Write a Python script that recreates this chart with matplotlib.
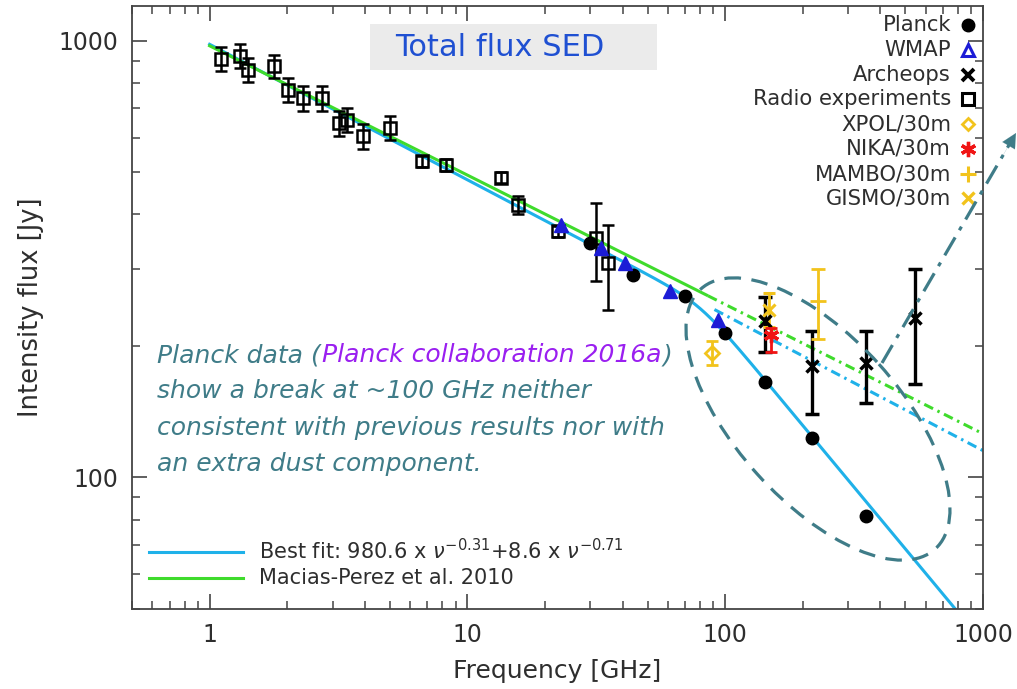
import numpy as np
import matplotlib
matplotlib.use("Agg")
import matplotlib.pyplot as plt
from matplotlib.patches import Ellipse, Rectangle
from matplotlib.ticker import LogLocator, NullFormatter, FuncFormatter

# ---------------- data ----------------
planck_freq = [30, 44, 70, 100, 143, 217, 353]
planck_flux = [344, 290, 260, 214, 165, 123, 81.8]

wmap_freq = [23, 33, 41, 61, 94]
wmap_flux = [379, 335, 310, 267, 229]

archeops_freq = [143, 217, 353, 545]
archeops_flux = [228, 180, 183, 232]
archeops_lo = [194, 140, 148, 164]
archeops_hi = [259, 216, 216, 300]

radio_freq = [1.11, 1.31, 1.41, 1.77, 2.01, 2.30, 2.73, 3.17, 3.41, 3.93,
              5.02, 6.67, 8.27, 13.5, 15.7, 22.4, 31.5, 35.0]
radio_flux = [908, 924, 858, 874, 772, 739, 739, 648, 659, 604,
              631, 529, 520, 485, 421, 366, 353, 310]
radio_err = [58, 58, 55, 55, 50, 48, 48, 42, 42, 39,
             40, 16, 16, 14, 20, 11, 72, 68]

xpol_freq, xpol_flux, xpol_lo, xpol_hi = [88.5], [193], [181], [205]
nika_freq, nika_flux, nika_lo, nika_hi = [150], [212], [194], [220]
mambo_freq, mambo_flux, mambo_lo, mambo_hi = [230], [253], [207], [300]
gismo_freq, gismo_flux, gismo_lo, gismo_hi = [148], [242], [221], [265]

# fitted models
best_amp, best_idx_low, best_idx_high, best_break = 980.6, -0.31, -0.71, 80.0
best_sharpness = 8.0
macias_amp, macias_idx = 973.0, -0.296
extrap_start = 85.0

legend_labels = ["Planck", "WMAP", "Archeops", "Radio experiments",
                 "XPOL/30m", "NIKA/30m", "MAMBO/30m", "GISMO/30m"]

# ---------------- styling ----------------
W, H, DPI = 1017, 689, 100
C_TXT = "#2e2e2e"
C_BLUE_LINE = "#1fb1e9"
C_GREEN_LINE = "#3fdb2c"
C_WMAP = "#1c1cd6"
C_GOLD = "#f2c31c"
C_RED = "#f01414"
C_TEAL = "#3f7c88"
C_PURPLE = "#9a1ff0"

plt.rcParams["font.family"] = ["DejaVu Sans"]
plt.rcParams["mathtext.fontset"] = "dejavusans"

fig = plt.figure(figsize=(W / DPI, H / DPI), dpi=DPI)
ax = fig.add_axes([132 / W, 1 - 609 / H, (983 - 132) / W, (609 - 6) / H])
ax.set_xscale("log")
ax.set_yscale("log")
ax.set_xlim(0.5, 1000)
ax.set_ylim(50, 1200)

for sp in ax.spines.values():
    sp.set_color("#444444")
    sp.set_linewidth(1.3)

fmt = FuncFormatter(lambda v, p: f"{v:g}")
for axis in (ax.xaxis, ax.yaxis):
    axis.set_major_locator(LogLocator(base=10))
    axis.set_minor_locator(LogLocator(base=10, subs=np.arange(2, 10)))
    axis.set_major_formatter(fmt)
    axis.set_minor_formatter(NullFormatter())
ax.tick_params(which="both", direction="in", top=True, right=True,
               color="#444444", labelcolor=C_TXT, labelsize=17)
ax.tick_params(which="major", length=11, width=1.2, pad=10)
ax.tick_params(which="minor", length=5.5, width=1.1)
ax.set_xlabel("Frequency [GHz]", fontsize=18, color=C_TXT, labelpad=9)
ax.set_ylabel("Intensity flux [Jy]", fontsize=18.5, color=C_TXT, labelpad=10)

# ---------------- model curves ----------------
nu = np.logspace(0, 3, 600)
best = best_amp * nu ** best_idx_low * (1 + (nu / best_break) ** best_sharpness) ** (
    (best_idx_high - best_idx_low) / best_sharpness)
ax.plot(nu, best, color=C_BLUE_LINE, lw=2.2, zorder=2)

nu_lo = nu[nu <= extrap_start]
nu_hi = nu[nu >= extrap_start]
ax.plot(nu_lo, macias_amp * nu_lo ** macias_idx, color=C_GREEN_LINE, lw=2.2, zorder=2)
dashdot = (0, (3.2, 1.6, 0.8, 1.6))
ax.plot(nu_hi, macias_amp * nu_hi ** macias_idx, color=C_GREEN_LINE, lw=2.2,
        linestyle=dashdot, zorder=2)
nu_b = nu[nu >= 90]
ax.plot(nu_b, best_amp * nu_b ** best_idx_low, color=C_BLUE_LINE, lw=2.2,
        linestyle=dashdot, zorder=2)

# ---------------- data points ----------------
def asym(flux, lo, hi):
    f = np.asarray(flux)
    return [f - np.asarray(lo), np.asarray(hi) - f]

ax.errorbar(radio_freq, radio_flux, yerr=radio_err, fmt="s", ms=8.5, mfc="none",
            mec="black", mew=1.8, ecolor="black", elinewidth=1.8, capsize=4,
            capthick=1.8, zorder=4)
ax.plot(planck_freq, planck_flux, "o", ms=9, color="black", zorder=5)
ax.plot(wmap_freq, wmap_flux, "^", ms=10, color=C_WMAP, zorder=5)
ax.errorbar(archeops_freq, archeops_flux,
            yerr=asym(archeops_flux, archeops_lo, archeops_hi), fmt="x", ms=9,
            mew=2.5, color="black", elinewidth=2.4, capsize=5, capthick=2.4, zorder=6)
ax.errorbar(xpol_freq, xpol_flux, yerr=asym(xpol_flux, xpol_lo, xpol_hi), fmt="D",
            ms=7, mfc="none", mec=C_GOLD, mew=2, ecolor=C_GOLD, elinewidth=2,
            capsize=4, capthick=2, zorder=6)
ax.errorbar(gismo_freq, gismo_flux, yerr=asym(gismo_flux, gismo_lo, gismo_hi),
            fmt="x", ms=9, mew=2.2, color=C_GOLD, elinewidth=2, capsize=4,
            capthick=2, zorder=6)
ax.errorbar(nika_freq, nika_flux, yerr=asym(nika_flux, nika_lo, nika_hi),
            fmt="none", ecolor=C_RED, elinewidth=2, capsize=4, capthick=2, zorder=7)
ax.plot(nika_freq, nika_flux, marker=(6, 2, 0), ms=11, mew=2.4, color=C_RED,
        ls="none", zorder=7)
ax.errorbar(mambo_freq, mambo_flux, yerr=asym(mambo_flux, mambo_lo, mambo_hi),
            fmt="+", ms=12, mew=2, color=C_GOLD, elinewidth=2, capsize=5,
            capthick=2, zorder=6)

# ---------------- overlay in pixel units ----------------
ov = fig.add_axes([0, 0, 1, 1], facecolor="none")
ov.set_xlim(0, W)
ov.set_ylim(H, 0)
ov.axis("off")

# legend with markers on the right
leg_y = [25, 50, 75, 99, 124, 149, 174, 198]
leg_style = [
    dict(marker="o", ms=9, color="black"),
    dict(marker="^", ms=9, mfc="none", mec=C_WMAP, mew=2.2),
    dict(marker="x", ms=9, mew=2.8, color="black"),
    dict(marker="s", ms=8.5, mfc="none", mec="black", mew=2.2),
    dict(marker="D", ms=6.5, mfc="none", mec=C_GOLD, mew=2),
    dict(marker=(6, 2, 0), ms=11, mew=2.4, color=C_RED),
    dict(marker="+", ms=11, mew=2.2, color=C_GOLD),
    dict(marker="x", ms=9, mew=2.4, color=C_GOLD),
]
for lab, y, st in zip(legend_labels, leg_y, leg_style):
    ov.text(951, y, lab, ha="right", va="center", fontsize=15.2, color=C_TXT)
    ov.plot([968], [y], ls="none", **st)

# legend for the model lines
ov.plot([149, 243], [552, 552], color=C_BLUE_LINE, lw=2.2)
ov.plot([149, 243], [578, 578], color=C_GREEN_LINE, lw=2.2)
ov.text(259, 551, r"Best fit: 980.6 x $\nu^{-0.31}$+8.6 x $\nu^{-0.71}$",
        ha="left", va="center", fontsize=15, color=C_TXT)
ov.text(259, 578, "Macias-Perez et al. 2010", ha="left", va="center",
        fontsize=15, color=C_TXT)

# title box
ov.add_patch(Rectangle((370, 24), 287, 46, facecolor="#ebebeb", edgecolor="none",
                       zorder=1))
ov.text(500, 47, "Total flux SED", ha="center", va="center", fontsize=22,
        color="#1f50d2", zorder=2)

# annotation text
renderer = fig.canvas.get_renderer()
note_kw = dict(fontsize=18, style="italic", va="center", ha="left")
x0 = 157
lines = [
    [("Planck data (", C_TEAL), ("Planck collaboration 2016a", C_PURPLE), (")", C_TEAL)],
    [("show a break at ~100 GHz neither", C_TEAL)],
    [("consistent with previous results nor with", C_TEAL)],
    [("an extra dust component.", C_TEAL)],
]
for i, parts in enumerate(lines):
    x = x0
    y = 355 + 36.5 * i
    for s, c in parts:
        t = ov.text(x, y, s, color=c, **note_kw)
        x += t.get_window_extent(renderer=renderer).width + 1

# dashed ellipse around the high-frequency break
ov.add_patch(Ellipse((818, 419), 2 * 175, 2 * 82, angle=48, fill=False,
                     edgecolor=C_TEAL, lw=2.3, linestyle=(0, (5.2, 3.3))))

# dash-dot arrow leaving the ellipse
tail = np.array([882.0, 363.0])
tip = np.array([1016.0, 133.0])
d = (tip - tail) / np.hypot(*(tip - tail))
ov.plot([tail[0], (tip - 14 * d)[0]], [tail[1], (tip - 14 * d)[1]], color=C_TEAL,
        lw=2.3, linestyle=(0, (6.5, 2.6, 1.3, 2.6)))
ov.annotate("", xy=tip, xytext=tip - 26 * d,
            arrowprops=dict(arrowstyle="-|>", mutation_scale=26, color=C_TEAL,
                            lw=0.1, shrinkA=0, shrinkB=0))

fig.savefig("out.png", dpi=DPI)
